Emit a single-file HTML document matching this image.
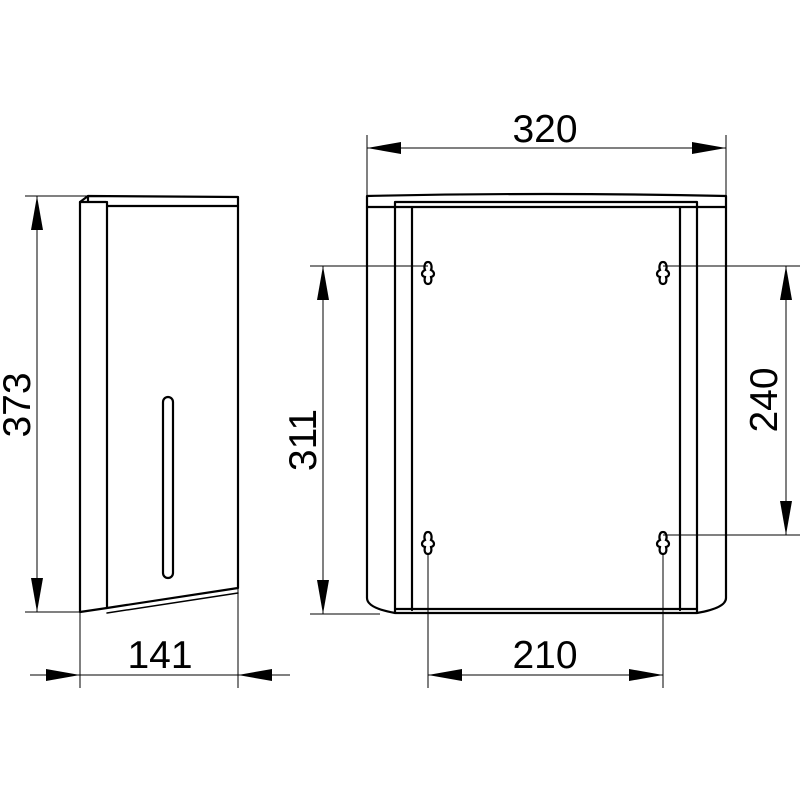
<!DOCTYPE html>
<html><head><style>body{margin:0;background:#fff}svg{display:block}</style></head><body>
<svg width="800" height="800" viewBox="0 0 800 800" xmlns="http://www.w3.org/2000/svg">
<defs>
<g id="kh"><path d="M0,-11 C-4,-11 -4,-5 -3,-3 C-7,-1 -7,3 -3,4 C-4,8 -3,11 0,11 C3,11 4,8 3,4 C7,3 7,-1 3,-3 C4,-5 4,-11 0,-11 Z" fill="#fff" stroke="#000" stroke-width="2.2"/></g>
</defs>
<g fill="none" stroke="#000" stroke-linecap="round" stroke-linejoin="round">
<path d="M88,196 L238,197 L238,588 L107,608 L80,612 L80,202 Z" stroke-width="2.2"/>
<path d="M107,202 L107,608 M80,202 L106,202 M88,196 L88,202 M107,206 L238,206" stroke-width="2.2"/>
<path d="M107,613 L238,593" stroke-width="1.5"/>
<rect x="163" y="397" width="10" height="181" rx="5" stroke-width="2.2"/>
<path d="M367,196 Q545,192 726,196 L726,598 Q726,608 697,613 L395,613 Q367,608 367,598 Z" stroke-width="2.2"/>
<path d="M367,207 L726,207 M395,202 L697,202 L697,612 M395,202 L395,612 M412,207 L412,610 M680,207 L680,610 M395,609 L697,609" stroke-width="2.2"/>
</g>
<use href="#kh" x="428" y="273"/><use href="#kh" x="663" y="273"/>
<use href="#kh" x="428" y="543"/><use href="#kh" x="663" y="543"/>
<g stroke="#000" stroke-width="1" fill="none">
<line x1="25" y1="196" x2="88" y2="196"/><line x1="25" y1="612" x2="80" y2="612"/>
<line x1="37" y1="196" x2="37" y2="612"/>
<line x1="80" y1="612" x2="80" y2="688"/><line x1="238" y1="588" x2="238" y2="688"/>
<line x1="30" y1="675" x2="290" y2="675"/>
<line x1="367" y1="135" x2="367" y2="196"/><line x1="726" y1="135" x2="726" y2="196"/>
<line x1="367" y1="148" x2="726" y2="148"/>
<line x1="310" y1="266" x2="428" y2="266"/><line x1="663" y1="266" x2="800" y2="266"/>
<line x1="663" y1="535" x2="800" y2="535"/><line x1="310" y1="614" x2="380" y2="614"/>
<line x1="323" y1="266" x2="323" y2="614"/><line x1="786" y1="266" x2="786" y2="535"/>
<line x1="428" y1="554" x2="428" y2="688"/><line x1="663" y1="554" x2="663" y2="688"/>
<line x1="428" y1="675" x2="663" y2="675"/>
</g>
<g fill="#000">
<polygon points="37,196 31,230 43,230"/><polygon points="37,612 31,578 43,578"/>
<polygon points="80,675 46,669 46,681"/><polygon points="238,675 272,669 272,681"/>
<polygon points="367,148 401,142 401,154"/><polygon points="726,148 692,142 692,154"/>
<polygon points="323,266 317,300 329,300"/><polygon points="323,614 317,580 329,580"/>
<polygon points="786,266 780,300 792,300"/><polygon points="786,535 780,501 792,501"/>
<polygon points="428,675 462,669 462,681"/><polygon points="663,675 629,669 629,681"/>
</g>
<g font-family="Liberation Sans, sans-serif" font-size="39" fill="#000" text-anchor="middle">
<text x="160" y="668">141</text>
<text x="545" y="142">320</text>
<text x="545" y="668">210</text>
<text transform="translate(30,405) rotate(-90)">373</text>
<text transform="translate(316,440) rotate(-90)">311</text>
<text transform="translate(777,400) rotate(-90)">240</text>
</g>
</svg>
</body></html>
